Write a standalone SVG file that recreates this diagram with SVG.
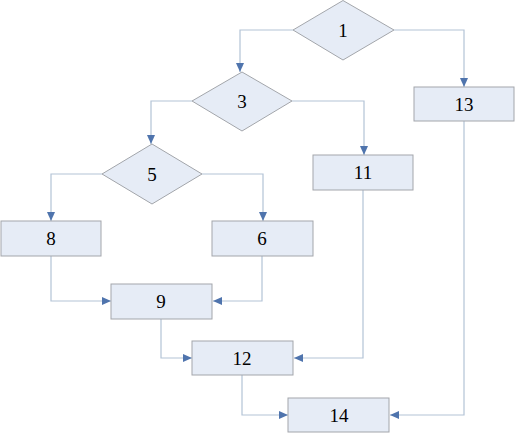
<svg xmlns="http://www.w3.org/2000/svg" width="515" height="433" viewBox="0 0 515 433">
<defs>
<style>
.n{fill:#e6ecf6;stroke:#a3a6ab;stroke-width:1}
.t{font-family:"Liberation Serif","Times New Roman",serif;font-size:19px;fill:#000;text-anchor:middle;dominant-baseline:central}
.c{fill:none;stroke:#b3c3d6;stroke-width:1.2}
</style>
<marker id="a" markerUnits="userSpaceOnUse" markerWidth="9" markerHeight="9" viewBox="0 0 9 9" refX="9" refY="4.5" orient="auto">
<path d="M0,0.5 L9,4.5 L0,8.5 Z" fill="#4f74ad"/>
</marker>
</defs>
<rect width="515" height="433" fill="#fff"/>
<g id="connectors">
<path class="c" d="M293,30 H240 V72" marker-end="url(#a)"/>
<path class="c" d="M394,30 H464 V87" marker-end="url(#a)"/>
<path class="c" d="M192,101 H151 V144" marker-end="url(#a)"/>
<path class="c" d="M292,101 H364 V155" marker-end="url(#a)"/>
<path class="c" d="M102,174 H51 V221" marker-end="url(#a)"/>
<path class="c" d="M202,174 H263 V221" marker-end="url(#a)"/>
<path class="c" d="M51,256 V301 H111" marker-end="url(#a)"/>
<path class="c" d="M262,256 V301 H213" marker-end="url(#a)"/>
<path class="c" d="M161,319 V358 H192" marker-end="url(#a)"/>
<path class="c" d="M363,190 V358 H294" marker-end="url(#a)"/>
<path class="c" d="M242,375 V415 H288" marker-end="url(#a)"/>
<path class="c" d="M464,121 V415 H390" marker-end="url(#a)"/>
</g>
<g id="n1"><polygon class="n" points="343,0.5 394,30 343,60 293,30"/><text class="t" x="343" y="30">1</text></g>
<g id="n3"><polygon class="n" points="242,72 292,101 242,131 192,101"/><text class="t" x="242" y="101">3</text></g>
<g id="n5"><polygon class="n" points="152,144 202,174 152,204 102,174"/><text class="t" x="152" y="174">5</text></g>
<g id="n13"><rect class="n" x="414" y="87" width="100" height="34"/><text class="t" x="464" y="104">13</text></g>
<g id="n11"><rect class="n" x="313" y="155" width="100" height="35"/><text class="t" x="363" y="172">11</text></g>
<g id="n8"><rect class="n" x="1" y="221" width="100" height="35"/><text class="t" x="51" y="238">8</text></g>
<g id="n6"><rect class="n" x="212" y="221" width="101" height="35"/><text class="t" x="262" y="238">6</text></g>
<g id="n9"><rect class="n" x="111" y="284" width="101" height="35"/><text class="t" x="161" y="301">9</text></g>
<g id="n12"><rect class="n" x="192" y="341" width="101" height="34"/><text class="t" x="242" y="358">12</text></g>
<g id="n14"><rect class="n" x="288" y="398" width="101" height="34"/><text class="t" x="339" y="415">14</text></g>
</svg>
